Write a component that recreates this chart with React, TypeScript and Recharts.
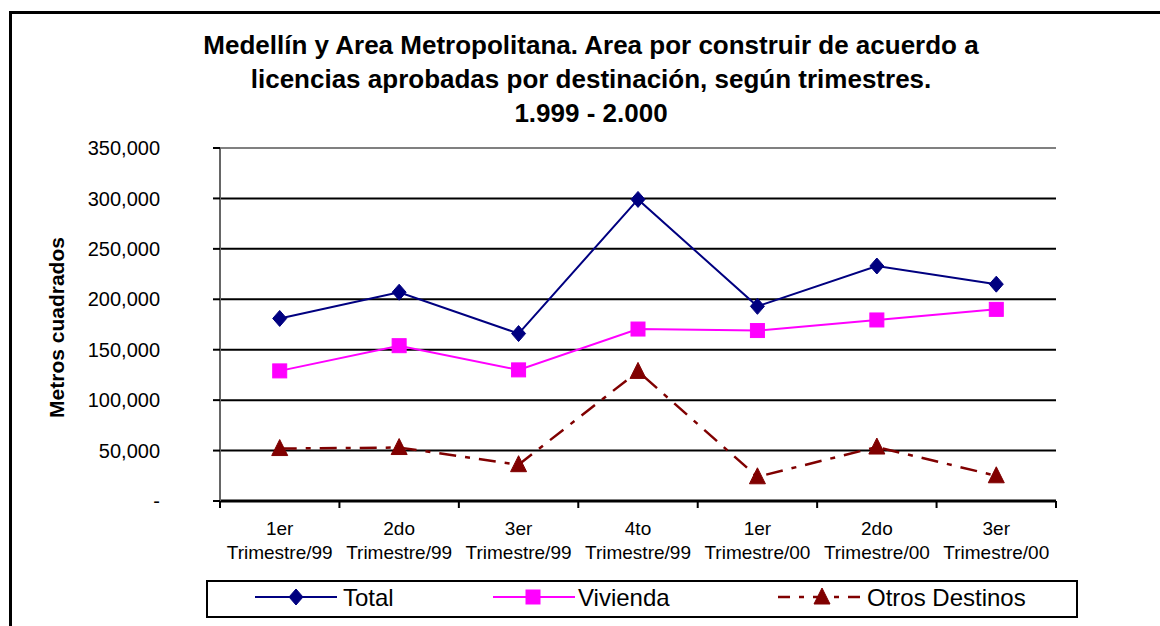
import React from 'react';
import { LineChart, Line, XAxis, YAxis, CartesianGrid, ReferenceLine } from 'recharts';

const quarters = ['1er', '2do', '3er', '4to', '1er', '2do', '3er'];
const periods = ['Trimestre/99', 'Trimestre/99', 'Trimestre/99', 'Trimestre/99', 'Trimestre/00', 'Trimestre/00', 'Trimestre/00'];
const total = [181000, 207000, 166000, 299000, 193000, 233000, 215000];
const vivienda = [129000, 154000, 130000, 170500, 169000, 179500, 190000];
const otros = [52000, 53000, 36000, 128500, 24000, 53500, 25000];
const yTicks = [0, 50000, 100000, 150000, 200000, 250000, 300000, 350000];
const gridValues = [50000, 100000, 150000, 200000, 250000, 300000];

const titleLines = [
  'Medellín y Area Metropolitana. Area por construir de acuerdo a',
  'licencias aprobadas por destinación, según trimestres.',
  '1.999 - 2.000',
];
const yLabel = 'Metros cuadrados';
const seriesNames = ['Total', 'Vivienda', 'Otros Destinos'];

const data = quarters.map((q, i) => ({
  key: `${q} ${periods[i]} ${i}`,
  q,
  p: periods[i],
  total: total[i],
  vivienda: vivienda[i],
  otros: otros[i],
}));

const FONT = 'Arial, "Liberation Sans", sans-serif';
const NAVY = '#000080';
const MAGENTA = '#FF00FF';
const MAROON = '#800000';
const DASH = '17 9 5 9';

const Diamond = (props: any) => {
  const { cx, cy } = props;
  if (cx == null || cy == null) return null;
  return <path d={`M${cx},${cy - 8} L${cx + 7},${cy} L${cx},${cy + 8} L${cx - 7},${cy} Z`} fill={NAVY} stroke={NAVY} strokeWidth={1} />;
};
const Square = (props: any) => {
  const { cx, cy } = props;
  if (cx == null || cy == null) return null;
  return <rect x={cx - 7} y={cy - 7} width={14} height={14} fill={MAGENTA} stroke={MAGENTA} />;
};
const Triangle = (props: any) => {
  const { cx, cy } = props;
  if (cx == null || cy == null) return null;
  return <path d={`M${cx},${cy - 9} L${cx + 8},${cy + 7} L${cx - 8},${cy + 7} Z`} fill={MAROON} stroke={MAROON} strokeWidth={1} />;
};

const XTick = (props: any) => {
  const { x, y, payload, width, visibleTicksCount, index } = props;
  const half = payload && payload.offset ? payload.offset : width / visibleTicksCount / 2;
  const d = data[index] || { q: '', p: '' };
  return (
    <g>
      <line x1={x - half} x2={x - half} y1={y} y2={y + 7} stroke="#000" strokeWidth={2} />
      {index === visibleTicksCount - 1 && (
        <line x1={x + half} x2={x + half} y1={y} y2={y + 7} stroke="#000" strokeWidth={2} />
      )}
      <text x={x} y={y + 34} textAnchor="middle" fontSize={19} fontFamily={FONT} fill="#000">{d.q}</text>
      <text x={x} y={y + 58} textAnchor="middle" fontSize={19} fontFamily={FONT} fill="#000">{d.p}</text>
    </g>
  );
};

const YLabel = (props: any) => {
  const vb = props.viewBox || { y: 148, height: 353 };
  const cy = vb.y + vb.height / 2 + 3;
  return (
    <text x={56} y={cy} transform={`rotate(-90, 56, ${cy})`} textAnchor="middle" dominantBaseline="central"
      fontSize={21} fontWeight="bold" fontFamily={FONT} fill="#000">{yLabel}</text>
  );
};

const fmt = (v: number) => (v === 0 ? '-' : v.toLocaleString('en-US'));

export default function App() {
  return (
    <div style={{ position: 'absolute', left: 0, top: 0, width: 1160, height: 626, overflow: 'hidden', background: '#fff' }}>
      <div style={{ position: 'absolute', left: 9, top: 11, width: 1300, height: 800, border: '3px solid #000', boxSizing: 'border-box' }} />
      <div style={{ position: 'absolute', left: 91, top: 28, width: 1000, textAlign: 'center', fontFamily: FONT, fontWeight: 'bold', fontSize: 26, lineHeight: '34px', color: '#000', whiteSpace: 'nowrap' }}>
        {titleLines.map((t, i) => <div key={i}>{t}</div>)}
      </div>
      <div style={{ position: 'absolute', left: 0, top: 0 }}>
        <LineChart width={1160} height={626} data={data} margin={{ top: 148, right: 104, bottom: 65, left: 140 }}>
          <CartesianGrid horizontal vertical={false} horizontalValues={gridValues} stroke="#000" strokeWidth={2} strokeDasharray="" />
          <ReferenceLine y={350000} stroke="#808080" strokeWidth={2} />
          <XAxis dataKey="key" scale="band" height={60} tickLine={false} tickSize={0} tickMargin={0} interval={0}
            axisLine={{ stroke: '#000', strokeWidth: 3 }} tick={<XTick />} />
          <YAxis domain={[0, 350000]} ticks={yTicks} width={80} tickSize={7} tickMargin={53} interval={0}
            tickFormatter={fmt} axisLine={{ stroke: '#666', strokeWidth: 2 }} tickLine={{ stroke: '#000', strokeWidth: 2 }}
            tick={{ fill: '#000', fontSize: 20, fontFamily: FONT }} label={<YLabel />} />
          <YAxis yAxisId="r" orientation="right" width={0} domain={[0, 350000]} tick={false} tickLine={false}
            axisLine={{ stroke: '#808080', strokeWidth: 2 }} />
          <Line dataKey="otros" name={seriesNames[2]} stroke={MAROON} strokeWidth={2.5} strokeDasharray={DASH} dot={<Triangle />} activeDot={false} isAnimationActive={false} />
          <Line dataKey="vivienda" name={seriesNames[1]} stroke={MAGENTA} strokeWidth={2} dot={<Square />} activeDot={false} isAnimationActive={false} />
          <Line dataKey="total" name={seriesNames[0]} stroke={NAVY} strokeWidth={2} dot={<Diamond />} activeDot={false} isAnimationActive={false} />
        </LineChart>
      </div>
      <svg style={{ position: 'absolute', left: 206, top: 580 }} width={872} height={38}>
        <rect x={1} y={1} width={870} height={36} fill="#fff" stroke="#000" strokeWidth={2} />
        <line x1={49} x2={131} y1={17} y2={17} stroke={NAVY} strokeWidth={2} />
        <Diamond cx={90} cy={17} />
        <text x={137} y={26} fontSize={24} fontFamily={FONT} fill="#000">{seriesNames[0]}</text>
        <line x1={287} x2={369} y1={17} y2={17} stroke={MAGENTA} strokeWidth={2} />
        <Square cx={327} cy={17} />
        <text x={372} y={26} fontSize={24} fontFamily={FONT} fill="#000">{seriesNames[1]}</text>
        <line x1={572} x2={656} y1={17} y2={17} stroke={MAROON} strokeWidth={2.5} strokeDasharray="12 9 5 9" />
        <Triangle cx={616} cy={17} />
        <text x={661} y={26} fontSize={24} fontFamily={FONT} fill="#000">{seriesNames[2]}</text>
      </svg>
    </div>
  );
}
